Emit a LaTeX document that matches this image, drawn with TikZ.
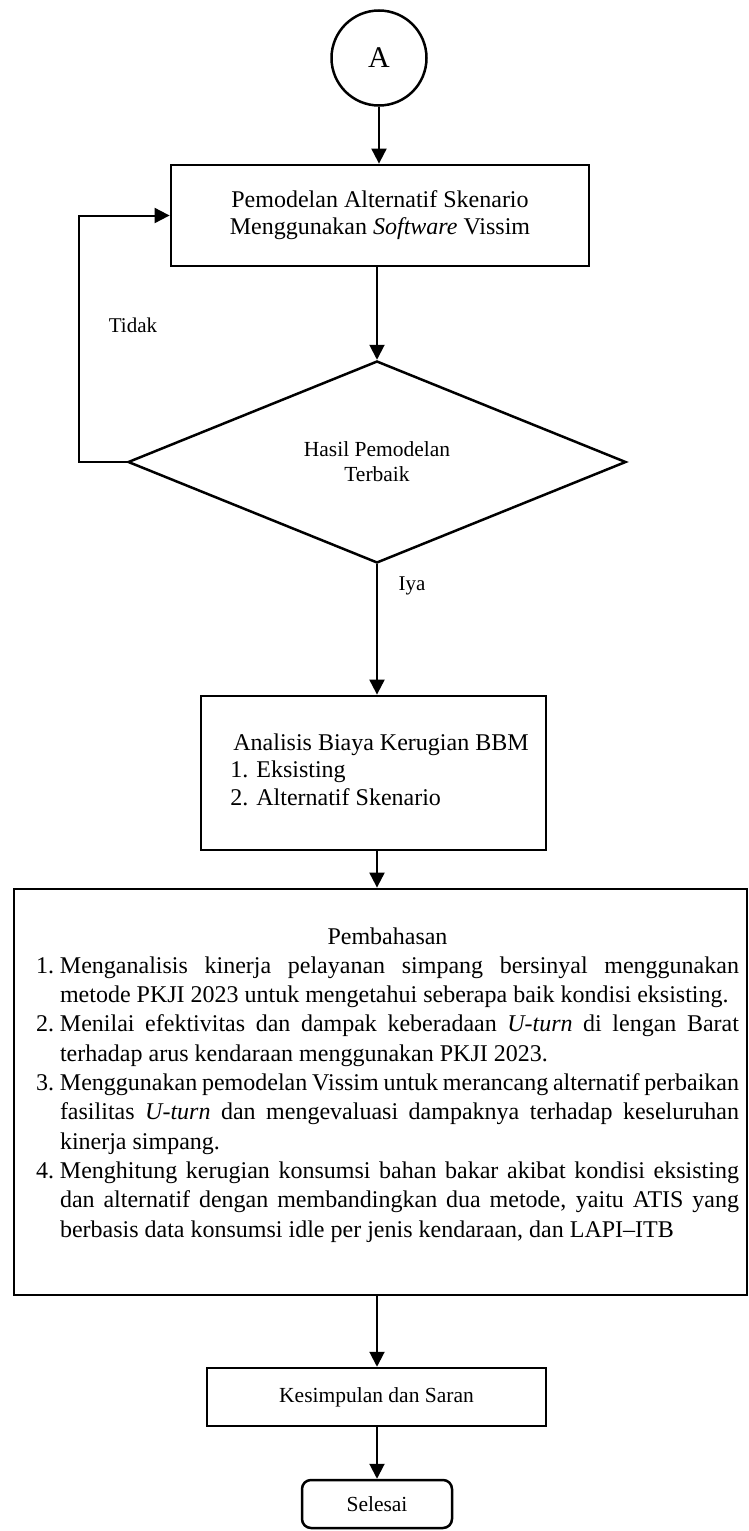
\documentclass[tikz,border=0pt]{standalone}
\usepackage{fontspec}
\setmainfont{Liberation Serif}
\usetikzlibrary{arrows.meta,shapes.geometric}
\newcommand\bbnum[2]{\hbox to 733pt{\hskip22pt\hbox to 24pt{\strut#1\hfil}\hbox to 679pt{\spaceskip=.25em plus 1fil minus .08em\relax #2}\hfil}}
\newcommand\bbjust[1]{\hbox to 733pt{\hskip46pt\hbox to 679pt{\strut\spaceskip=.25em plus 1fil minus .08em\relax #1}\hfil}}
\newcommand\bblast[1]{\hbox to 733pt{\hskip46pt\strut #1\hfil}}
\begin{document}
\begin{tikzpicture}[x=1pt,y=-1pt,
  boxnode/.style={draw, line width=2.8pt, rectangle, inner sep=0pt},
  arr/.style={line width=2pt, -{Triangle[length=15pt,width=15pt]}},
  lbl/.style={inner sep=0pt, font=\fontsize{21}{25}\selectfont},
  smallfont/.style={font=\fontsize{21.5}{25}\selectfont}]
\useasboundingbox (0,0) rectangle (749,1531);

\node[circle, draw, line width=2.5pt, minimum size=95pt, inner sep=0pt,
      font=\fontsize{30}{36}\selectfont] (A) at (379,58) {A};

\node[boxnode, minimum width=418pt, minimum height=101pt, align=center,
      font=\fontsize{24}{27}\selectfont] (b1) at (380,215.5)
  {Pemodelan Alternatif Skenario\\Menggunakan \textit{Software} Vissim};

\node[diamond, draw, line width=2.5pt, minimum width=498pt, minimum height=202pt,
      aspect=2.5, inner sep=0pt, align=center, smallfont] (d) at (377,462)
  {Hasil Pemodelan\\Terbaik};

\node[boxnode, minimum width=345pt, minimum height=154pt] (b2) at (373.5,773)
  {\begin{minipage}[c][154pt][t]{345pt}\fontsize{24}{27.5}\selectfont
   \vspace*{34.75pt}
   \hbox{\hskip15pt\strut Analisis Biaya Kerugian BBM}
   \hbox{\hskip12pt\strut 1. Eksisting}
   \hbox{\hskip12pt\strut 2. Alternatif Skenario}
   \end{minipage}};

\node[boxnode, minimum width=733pt, minimum height=406pt] (pb) at (380.5,1092)
  {\begin{minipage}[c][406pt][t]{733pt}\fontsize{24}{29.3}\selectfont
   \vspace*{34.5pt}
   \hbox to 733pt{\hskip22pt\hbox to 703pt{\hfil\strut Pembahasan\hfil}\hfil}
   \bbnum{1.}{Menganalisis kinerja pelayanan simpang bersinyal menggunakan}
   \bblast{metode PKJI 2023 untuk mengetahui seberapa baik kondisi eksisting.}
   \bbnum{2.}{Menilai efektivitas dan dampak keberadaan \textit{U-turn} di lengan Barat}
   \bblast{terhadap arus kendaraan menggunakan PKJI 2023.}
   \bbnum{3.}{Menggunakan pemodelan Vissim untuk merancang alternatif perbaikan}
   \bbjust{fasilitas \textit{U-turn} dan mengevaluasi dampaknya terhadap keseluruhan}
   \bblast{kinerja simpang.}
   \bbnum{4.}{Menghitung kerugian konsumsi bahan bakar akibat kondisi eksisting}
   \bbjust{dan alternatif dengan membandingkan dua metode, yaitu ATIS yang}
   \bblast{berbasis data konsumsi idle per jenis kendaraan, dan LAPI–ITB}
   \end{minipage}};

\node[boxnode, line width=2.5pt, minimum width=339pt, minimum height=58pt, smallfont]
  (ks) at (376.5,1397) {Kesimpulan dan Saran};

\node[draw, rounded corners=9pt, line width=2.5pt, minimum width=150pt,
      minimum height=48pt, inner sep=0pt, smallfont] (sl) at (377,1504) {Selesai};

\node[lbl] (tidak) at (133,325) {Tidak};
\node[lbl] (iya) at (412,586) {Iya};

\draw[arr] (A.south) -- (A.south |- b1.north);
\draw[arr] (d.north |- b1.south) -- (d.north);
\draw[arr] (d.west) -- ++(-48,0) |- (b1.west);
\draw[arr] (d.south) -- (d.south |- b2.north);
\draw[arr] (d.south |- b2.south) -- (d.south |- pb.north);
\draw[arr] (d.south |- pb.south) -- (d.south |- ks.north);
\draw[arr] (sl.north |- ks.south) -- (sl.north);
\end{tikzpicture}
\end{document}
